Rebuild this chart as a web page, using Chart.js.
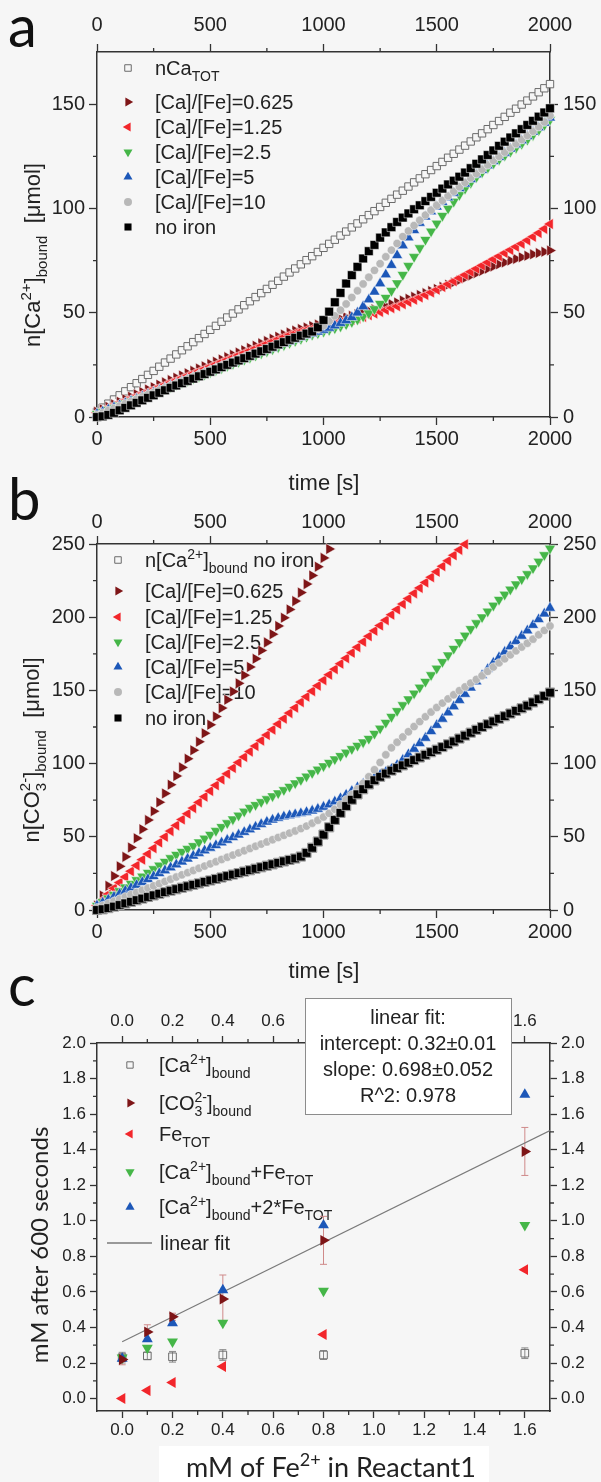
<!DOCTYPE html>
<html>
<head>
<meta charset="utf-8">
<script src="https://cdn.jsdelivr.net/npm/chart.js@4.4.1/dist/chart.umd.min.js"></script>
<style>
  html, body { margin: 0; padding: 0; background: #f6f6f6; }
  #page { position: relative; width: 601px; height: 1482px; overflow: hidden; }
  canvas { position: absolute; left: 0; }
</style>
</head>
<body>
<div id="page">
  <canvas id="chartA" width="601" height="495" style="top:0px"></canvas>
  <canvas id="chartB" width="601" height="520" style="top:470px"></canvas>
  <canvas id="chartC" width="601" height="522" style="top:960px"></canvas>
</div>
<script>
// ---- panel a / b : sampling times [s]
const timeS = [0,25,50,75,100,125,150,175,200,225,250,275,300,325,350,375,400,425,450,475,500,525,550,575,600,625,650,675,700,725,750,775,800,825,850,875,900,925,950,975,1000,1025,1050,1075,1100,1125,1150,1175,1200,1225,1250,1275,1300,1325,1350,1375,1400,1425,1450,1475,1500,1525,1550,1575,1600,1625,1650,1675,1700,1725,1750,1775,1800,1825,1850,1875,1900,1925,1950,1975,2000];

// panel a: n[Ca2+]bound [umol]
const aTot = [2.5,4.5,6.4,8.4,10.4,12.3,14.3,16.2,18.2,20.2,22.1,24.1,26.1,28.0,30.0,32.0,33.9,35.9,37.8,39.8,41.8,43.7,45.7,47.7,49.6,51.6,53.6,55.5,57.5,59.4,61.4,63.4,65.3,67.3,69.3,71.2,73.2,75.2,77.1,79.1,81.1,83.0,85.0,87.0,88.9,90.9,92.8,94.8,96.8,98.7,100.7,102.7,104.6,106.6,108.5,110.5,112.5,114.4,116.4,118.4,120.3,122.3,124.3,126.2,128.2,130.1,132.1,134.1,136.0,138.0,140.0,141.9,143.9,145.9,147.8,149.8,151.7,153.7,155.7,157.6,159.6];
const a0625 = [2.5,3.7,4.9,6.1,7.3,8.5,9.7,10.9,12.0,13.2,14.3,15.5,16.6,17.7,18.8,19.9,21.0,22.1,23.2,24.3,25.4,26.5,27.6,28.7,29.8,30.9,32.0,33.1,34.2,35.3,36.4,37.5,38.5,39.5,40.5,41.4,42.2,42.9,43.6,44.3,45.0,45.7,46.4,47.1,47.8,48.5,49.3,50.1,50.9,51.7,52.5,53.3,54.1,54.9,55.8,56.7,57.6,58.5,59.4,60.4,61.4,62.4,63.4,64.5,65.6,66.7,67.8,68.9,70.0,71.1,72.2,73.2,74.1,75.0,75.8,76.6,77.3,78.0,78.6,79.2,79.8];
const a125 = [2.0,3.2,4.3,5.4,6.5,7.6,8.7,9.8,10.9,12.0,13.1,14.2,15.3,16.4,17.5,18.6,19.7,20.8,21.9,23.0,24.1,25.2,26.3,27.4,28.5,29.6,30.7,31.8,32.9,34.0,35.1,36.2,37.3,38.3,39.3,40.2,41.0,41.7,42.3,42.9,43.5,44.1,44.7,45.3,45.9,46.6,47.3,48.0,48.8,49.6,50.4,51.3,52.2,53.1,54.1,55.1,56.2,57.3,58.5,59.7,61.0,62.3,63.7,65.1,66.6,68.1,69.6,71.1,72.6,74.1,75.6,77.1,78.6,80.1,81.6,83.1,84.7,86.4,88.2,90.2,92.5];
const a25 = [1.5,2.5,3.5,4.5,5.5,6.5,7.5,8.5,9.5,10.5,11.5,12.5,13.5,14.5,15.5,16.5,17.5,18.5,19.5,20.5,21.5,22.5,23.5,24.5,25.5,26.5,27.5,28.5,29.5,30.5,31.5,32.5,33.5,34.5,35.5,36.5,37.5,38.5,39.5,40.2,41.0,41.8,42.6,43.5,44.5,45.6,46.8,48.2,49.8,51.8,54.3,57.2,60.5,64.2,68.2,72.5,76.8,81.0,85.0,89.0,92.8,96.5,100.0,103.3,106.5,109.5,112.3,115.0,117.3,119.5,121.5,123.4,125.3,127.2,129.1,131.0,133.0,135.2,137.5,140.0,142.5];
const a5 = [1.5,2.5,3.5,4.6,5.6,6.6,7.6,8.6,9.7,10.7,11.7,12.7,13.7,14.8,15.8,16.8,17.8,18.8,19.9,20.9,21.9,22.9,23.9,25.0,26.0,27.0,28.0,29.0,30.1,31.1,32.1,33.1,34.1,35.2,36.2,37.2,38.2,39.2,40.0,40.8,41.7,42.7,43.8,45.0,46.3,47.8,50.0,53.0,56.3,60.0,64.0,68.3,72.8,77.5,82.2,86.0,89.5,93.0,96.0,98.5,100.8,103.0,105.2,107.4,109.6,111.8,114.0,116.2,118.4,120.5,122.6,124.6,126.6,128.6,130.6,132.6,134.6,136.7,138.8,141.0,143.5];
const a10 = [1.0,2.0,3.1,4.2,5.3,6.4,7.5,8.6,9.7,10.8,11.8,12.9,14.0,15.1,16.1,17.2,18.3,19.3,20.4,21.4,22.5,23.5,24.6,25.6,26.7,27.7,28.7,29.8,30.8,31.8,32.9,33.9,34.9,35.9,37.0,38.0,39.0,40.0,41.0,42.3,43.8,46.0,48.5,51.2,54.2,57.3,60.5,63.8,67.0,70.3,73.5,76.8,80.0,83.2,86.5,89.2,91.8,94.3,96.8,99.2,101.5,103.8,106.0,108.2,110.4,112.5,114.6,116.7,118.8,120.9,123.0,125.0,127.0,129.0,131.0,133.0,135.0,137.0,139.2,141.5,144.5];
const aNoIron = [0,0.3,1.0,2.0,3.2,4.4,5.6,6.8,8.0,9.2,10.4,11.6,12.8,14.0,15.1,16.2,17.3,18.4,19.5,20.6,21.7,22.8,23.9,25.0,26.1,27.1,28.2,29.3,30.4,31.5,32.6,33.7,34.8,35.9,37.0,38.0,39.0,40.0,41.0,43.0,46.5,50.5,55.0,59.5,64.0,68.0,72.0,76.0,79.5,82.5,86.0,88.5,91.0,93.5,95.6,97.6,99.6,101.5,103.5,105.5,107.5,109.5,111.5,113.3,115.2,117.2,119.3,121.4,123.5,125.6,127.8,130.0,132.0,134.0,136.0,138.0,140.0,142.0,144.0,146.0,148.0];

// panel b: n[CO3 2-]bound [umol] (series end where they leave the 250 frame)
const b0625 = [3.0,9.8,16.5,23.2,29.8,36.3,42.7,49.0,55.2,61.4,67.5,73.6,79.6,85.6,91.5,97.4,103.3,109.1,114.9,120.7,126.5,132.2,137.9,143.6,149.2,154.8,160.4,166.0,171.6,177.2,182.8,188.4,194.0,199.6,205.3,211.0,216.8,222.6,228.5,234.5,240.5,246.6];
const b125 = [3.0,6.9,10.8,14.8,18.7,22.6,26.5,30.4,34.4,38.3,42.2,46.1,50.0,53.9,57.8,61.8,65.7,69.6,73.5,77.4,81.3,85.2,89.1,93.0,97.0,100.7,104.5,108.2,112.0,115.7,119.5,123.2,127.0,130.7,134.5,138.2,142.0,145.7,149.5,153.2,157.0,160.7,164.5,168.2,172.0,175.7,179.5,183.2,187.0,190.7,194.3,198.0,201.7,205.3,209.0,212.7,216.3,220.0,223.7,227.3,231.0,234.8,238.5,242.3,246.0,249.8];
const b25 = [3.0,5.5,8.0,10.5,13.0,15.5,18.0,20.5,23.0,25.5,28.0,30.5,33.0,35.5,37.8,39.8,41.8,43.8,46.3,48.9,51.5,54.1,56.8,59.4,62.0,64.6,67.3,69.8,71.8,73.8,75.8,77.8,79.8,82.0,84.3,86.6,88.9,91.3,93.6,96.0,98.3,100.6,103.0,105.3,107.6,110.0,112.3,114.6,117.0,120.5,124.0,128.0,132.0,136.0,140.0,144.0,148.0,152.0,156.0,160.5,165.0,169.5,174.0,178.5,183.0,187.5,192.0,196.0,200.0,204.0,208.0,212.0,215.5,219.0,222.5,226.0,229.5,233.5,238.0,242.5,247.0];
const b5 = [3.0,5.0,7.0,9.0,11.0,13.0,15.0,17.0,19.0,21.0,23.0,25.0,27.0,29.0,31.0,33.0,35.0,37.0,38.8,40.6,42.4,44.2,46.0,47.8,49.6,51.4,53.2,55.0,56.8,58.6,60.2,61.6,62.8,63.8,64.6,65.3,66.0,66.8,67.8,69.0,70.4,72.0,74.0,76.3,78.7,81.2,83.8,86.2,88.4,90.4,92.3,94.2,96.2,99.0,102.5,106.3,110.0,113.8,117.5,122.0,126.3,130.5,134.8,139.0,143.3,147.5,151.8,156.0,160.3,164.5,168.8,172.6,176.3,180.0,183.6,187.2,190.8,194.6,198.5,202.4,206.3];
const b10 = [1.5,3.0,4.5,6.0,7.5,9.0,10.5,12.0,13.5,15.0,16.5,18.0,19.5,21.0,22.5,24.0,25.5,27.0,28.5,30.0,31.5,33.0,34.5,36.0,37.5,39.0,40.5,42.0,43.5,45.0,46.5,48.0,49.5,51.0,52.5,54.0,55.6,57.3,59.3,61.3,63.5,66.0,68.8,72.0,75.3,78.8,82.5,86.5,91.0,95.8,100.8,106.0,110.8,114.6,118.2,121.8,125.3,128.7,132.0,135.2,138.3,141.3,144.2,147.0,149.8,152.4,155.0,157.5,160.0,163.0,166.0,168.8,171.6,174.3,177.0,179.6,182.2,185.0,188.0,191.0,194.0];
const bNoIron = [0,0.5,1.3,2.3,3.4,4.5,5.6,6.7,7.8,8.9,10.0,11.1,12.2,13.2,14.2,15.2,16.2,17.2,18.2,19.2,20.2,21.2,22.2,23.2,24.2,25.2,26.2,27.2,28.2,29.2,30.2,31.2,32.2,33.2,34.2,35.2,36.5,39.0,42.5,46.8,51.5,56.5,61.5,66.3,71.0,75.3,79.0,82.5,85.8,88.6,91.0,93.2,95.2,97.0,98.8,100.6,102.4,104.2,106.0,107.8,109.5,111.3,113.2,115.1,117.1,119.1,121.1,123.1,125.0,126.9,128.8,130.6,132.4,134.2,136.0,137.8,139.6,141.8,144.0,146.2,148.5];
// n[Ca2+]bound without iron lies under the black series in panel b
const bCaBound = bNoIron;

// panel c: mM after 600 s vs mM Fe2+
const cFe = [0, 0.1, 0.2, 0.4, 0.8, 1.6];
const cCaBound = [0.23, 0.24, 0.235, 0.245, 0.245, 0.255];
const cCaErr = [0.03, 0.02, 0.03, 0.03, 0.025, 0.03];
const cCO3 = [0.22, 0.375, 0.46, 0.56, 0.89, 1.39];
const cCO3Err = [0.03, 0.04, 0.02, 0.135, 0.135, 0.135];
const cFeTot = [0, 0.045, 0.09, 0.18, 0.36, 0.725];
const cCaFe = [0.23, 0.285, 0.32, 0.425, 0.605, 0.975];
const cCa2Fe = [0.225, 0.335, 0.425, 0.61, 0.975, 1.71];
const fitX = [0, 1.7];
const fitY = [0.32, 1.507];

// tick values
const tTicks = [0, 500, 1000, 1500, 2000];
const tMinor = [250, 750, 1250, 1750];
const aTicks = [0, 50, 100, 150];
const aMinor = [25, 75, 125];
const bTicks = [0, 50, 100, 150, 200, 250];
const bMinor = [25, 75, 125, 175, 225];
const cXTicks = [0, 0.2, 0.4, 0.6, 0.8, 1.0, 1.2, 1.4, 1.6];
const cXMinor = [0.1, 0.3, 0.5, 0.7, 0.9, 1.1, 1.3, 1.5];
const cYTicks = [0, 0.2, 0.4, 0.6, 0.8, 1.0, 1.2, 1.4, 1.6, 1.8, 2.0];
const cYMinor = [0.1, 0.3, 0.5, 0.7, 0.9, 1.1, 1.3, 1.5, 1.7, 1.9];

const FAM = '"Liberation Sans", Arial, Helvetica, sans-serif';
const LATO = 'Lato, "Open Sans", sans-serif';
const INK = '#222';
const AXIS = '#333';
const BG = '#f6f6f6';

const STY = {
  tot:   { shape: 'rect', rot: 0, fill: BG, line: '#6b6b6b', lw: 1 },
  r0625: { shape: 'triangle', rot: 90, fill: '#7e1517' },
  r125:  { shape: 'triangle', rot: -90, fill: '#f2262b' },
  r25:   { shape: 'triangle', rot: 180, fill: '#45b648' },
  r5:    { shape: 'triangle', rot: 0, fill: '#1c57b8' },
  r10:   { shape: 'circle', rot: 0, fill: '#b8b8b8' },
  none:  { shape: 'rect', rot: 0, fill: '#000000' }
};

Chart.defaults.font.family = FAM;

// ---- small drawing helpers
function parseRich(s) {
  const out = [];
  const re = /(\^\{[^}]*\}_\{[^}]*\})|(\^\{[^}]*\})|(_\{[^}]*\})|([^^_]+)/g;
  let m;
  while ((m = re.exec(s))) {
    if (m[1]) { const mm = m[1].match(/\^\{([^}]*)\}_\{([^}]*)\}/); out.push({ k: 'b', p: mm[1], s: mm[2] }); }
    else if (m[2]) out.push({ k: 'p', t: m[2].slice(2, -1) });
    else if (m[3]) out.push({ k: 's', t: m[3].slice(2, -1) });
    else out.push({ k: 'n', t: m[4] });
  }
  return out;
}

function drawRich(ctx, s, x, y, fs, fam, align) {
  const parts = parseRich(s);
  const F = fs + 'px ' + fam, S = Math.round(fs * 0.68) + 'px ' + fam;
  let w = 0;
  parts.forEach(p => {
    if (p.k === 'n') { ctx.font = F; p.w = ctx.measureText(p.t).width; }
    else if (p.k === 'b') { ctx.font = S; p.w = Math.max(ctx.measureText(p.p).width, ctx.measureText(p.s).width); }
    else { ctx.font = S; p.w = ctx.measureText(p.t).width; }
    w += p.w;
  });
  let cx = align === 'center' ? x - w / 2 : x;
  ctx.textAlign = 'left';
  ctx.textBaseline = 'alphabetic';
  parts.forEach(p => {
    if (p.k === 'n') { ctx.font = F; ctx.fillText(p.t, cx, y); }
    else if (p.k === 'p') { ctx.font = S; ctx.fillText(p.t, cx, y - fs * 0.42); }
    else if (p.k === 's') { ctx.font = S; ctx.fillText(p.t, cx, y + fs * 0.3); }
    else { ctx.font = S; ctx.fillText(p.p, cx, y - fs * 0.42); ctx.fillText(p.s, cx, y + fs * 0.3); }
    cx += p.w;
  });
}

function drawRotated(ctx, s, x, yc, fs, fam) {
  ctx.save();
  ctx.translate(x, yc);
  ctx.rotate(-Math.PI / 2);
  ctx.fillStyle = INK;
  drawRich(ctx, s, 0, 0, fs, fam, 'center');
  ctx.restore();
}

function marker(ctx, st, r, x, y) {
  ctx.save();
  ctx.beginPath();
  if (st.shape === 'circle') ctx.arc(x, y, r, 0, Math.PI * 2);
  else if (st.shape === 'rect') { const h = r * Math.SQRT1_2; ctx.rect(x - h, y - h, 2 * h, 2 * h); }
  else {
    let a = st.rot * Math.PI / 180;
    for (let k = 0; k < 3; k++) {
      const px = x + Math.sin(a) * r, py = y - Math.cos(a) * r;
      if (k) ctx.lineTo(px, py); else ctx.moveTo(px, py);
      a += 2 * Math.PI / 3;
    }
    ctx.closePath();
  }
  ctx.fillStyle = st.fill;
  ctx.fill();
  if (st.lw) { ctx.lineWidth = st.lw; ctx.strokeStyle = st.line; ctx.stroke(); }
  ctx.restore();
}

function drawLegend(ctx, items, mx, tx, fs) {
  items.forEach(it => {
    if (it.line) {
      ctx.save(); ctx.strokeStyle = it.line; ctx.lineWidth = 1.3;
      ctx.beginPath(); ctx.moveTo(it.x0, it.y); ctx.lineTo(it.x1, it.y); ctx.stroke(); ctx.restore();
    } else {
      marker(ctx, it.st, it.r, mx, it.y);
    }
    ctx.fillStyle = INK;
    drawRich(ctx, it.text, it.tx || tx, it.y + fs * 0.36, fs, FAM, 'left');
  });
}

function drawMinor(chart, xm, ym, len) {
  const { ctx, chartArea: a, scales } = chart;
  ctx.save();
  ctx.strokeStyle = AXIS;
  ctx.lineWidth = 1.3;
  ctx.beginPath();
  xm.forEach(v => {
    const p = scales.x.getPixelForValue(v);
    ctx.moveTo(p, a.bottom); ctx.lineTo(p, a.bottom + len);
    ctx.moveTo(p, a.top); ctx.lineTo(p, a.top - len);
  });
  ym.forEach(v => {
    const p = scales.y.getPixelForValue(v);
    ctx.moveTo(a.left, p); ctx.lineTo(a.left - len, p);
    ctx.moveTo(a.right, p); ctx.lineTo(a.right + len, p);
  });
  ctx.stroke();
  ctx.restore();
}

function drawErr(chart, xs, ys, es, color, cap) {
  const { ctx, scales } = chart;
  ctx.save();
  ctx.strokeStyle = color;
  ctx.lineWidth = 1;
  ctx.beginPath();
  xs.forEach((xv, i) => {
    const px = scales.x.getPixelForValue(xv);
    const p1 = scales.y.getPixelForValue(ys[i] + es[i]);
    const p2 = scales.y.getPixelForValue(ys[i] - es[i]);
    ctx.moveTo(px, p1); ctx.lineTo(px, p2);
    ctx.moveTo(px - cap, p1); ctx.lineTo(px + cap, p1);
    ctx.moveTo(px - cap, p2); ctx.lineTo(px + cap, p2);
  });
  ctx.stroke();
  ctx.restore();
}

function letter(ctx, ch, x, y) {
  ctx.save();
  ctx.fillStyle = '#111';
  ctx.font = '58px ' + LATO;
  ctx.textAlign = 'left';
  ctx.textBaseline = 'alphabetic';
  ctx.fillText(ch, x, y);
  ctx.restore();
}

// ---- chart builders
function scale(axis, pos, lo, hi, ticks, fmt, fs, size, pad, tl) {
  return {
    type: 'linear', axis: axis, position: pos, min: lo, max: hi,
    afterBuildTicks: s => { s.ticks = ticks.map(v => ({ value: v })); },
    afterFit: s => { if (axis === 'x') s.height = size; else s.width = size; },
    ticks: {
      autoSkip: false, maxRotation: 0, minRotation: 0, padding: pad, color: INK,
      font: { family: FAM, size: fs }, callback: v => fmt(v)
    },
    grid: { drawOnChartArea: false, drawTicks: true, tickLength: tl, tickColor: AXIS, tickWidth: 1.3 },
    border: { display: true, color: AXIS, width: 1.5 }
  };
}

function points(xs, ys, st, r, edge) {
  return {
    type: 'scatter',
    data: ys.map((v, i) => ({ x: xs[i], y: v })),
    pointStyle: st.shape, pointRotation: st.rot, pointRadius: r,
    pointBackgroundColor: st.fill,
    pointBorderColor: st.line || edge || st.fill,
    pointBorderWidth: st.lw ? st.lw : (edge ? 0.5 : 0),
    showLine: false, clip: false
  };
}

const intFmt = v => String(v);
const decFmt = v => v.toFixed(1);

// ---- panel a
new Chart(document.getElementById('chartA'), {
  type: 'scatter',
  data: {
    datasets: [
      points(timeS, aNoIron, STY.none, 6.2, '#fff'),
      points(timeS, a10, STY.r10, 4.2, '#fff'),
      points(timeS, a5, STY.r5, 6.4, '#fff'),
      points(timeS, a25, STY.r25, 6.4, '#fff'),
      points(timeS, a125, STY.r125, 6.4, '#fff'),
      points(timeS, a0625, STY.r0625, 6.4, '#fff'),
      points(timeS, aTot, STY.tot, 5.2)
    ]
  },
  options: {
    responsive: false, animation: false, events: [],
    layout: { padding: 0 },
    plugins: { legend: { display: false }, tooltip: { enabled: false } },
    scales: {
      x: scale('x', 'bottom', 0, 2000, tTicks, intFmt, 20, 78, 2, 8),
      x2: scale('x', 'top', 0, 2000, tTicks, intFmt, 20, 52, 7, 8),
      y: scale('y', 'left', 0, 175, aTicks, intFmt, 20, 97, 4, 8),
      y2: scale('y', 'right', 0, 175, aTicks, intFmt, 20, 51, 5, 8)
    }
  },
  plugins: [{
    id: 'decorA',
    beforeDatasetsDraw(chart) {
      drawLegend(chart.ctx, [
        { st: STY.tot, r: 4.6, y: 68, text: 'nCa_{TOT}' },
        { st: STY.r0625, r: 5.2, y: 102, text: '[Ca]/[Fe]=0.625' },
        { st: STY.r125, r: 5.2, y: 127, text: '[Ca]/[Fe]=1.25' },
        { st: STY.r25, r: 5.2, y: 152, text: '[Ca]/[Fe]=2.5' },
        { st: STY.r5, r: 5.2, y: 177, text: '[Ca]/[Fe]=5' },
        { st: STY.r10, r: 4, y: 202, text: '[Ca]/[Fe]=10' },
        { st: STY.none, r: 5, y: 227, text: 'no iron' }
      ], 128, 155, 20);
    },
    afterDraw(chart) {
      const ctx = chart.ctx;
      drawMinor(chart, tMinor, aMinor, 4);
      ctx.fillStyle = INK;
      drawRich(ctx, 'time [s]', 324, 490, 22, FAM, 'center');
      drawRotated(ctx, 'n[Ca^{2+}]_{bound}  [\u03bcmol]', 40, 255, 22, FAM);
      letter(ctx, 'a', 8, 47);
    }
  }]
});

// ---- panel b
new Chart(document.getElementById('chartB'), {
  type: 'scatter',
  data: {
    datasets: [
      points(timeS, bNoIron, STY.none, 6.2, '#fff'),
      points(timeS, b10, STY.r10, 4.2, '#fff'),
      points(timeS, b5, STY.r5, 6.4, '#fff'),
      points(timeS, b25, STY.r25, 6.4, '#fff'),
      points(timeS, b125, STY.r125, 6.4, '#fff'),
      points(timeS, b0625, STY.r0625, 6.4, '#fff'),
      points(timeS, bCaBound, STY.tot, 6.4)
    ]
  },
  options: {
    responsive: false, animation: false, events: [],
    layout: { padding: 0 },
    plugins: { legend: { display: false }, tooltip: { enabled: false } },
    scales: {
      x: scale('x', 'bottom', 0, 2000, tTicks, intFmt, 20, 80, 2, 8),
      x2: scale('x', 'top', 0, 2000, tTicks, intFmt, 20, 74, 2, 8),
      y: scale('y', 'left', 0, 250, bTicks, intFmt, 20, 97, 4, 8),
      y2: scale('y', 'right', 0, 250, bTicks, intFmt, 20, 51, 5, 8)
    }
  },
  plugins: [{
    id: 'decorB',
    beforeDatasetsDraw(chart) {
      drawLegend(chart.ctx, [
        { st: STY.tot, r: 4.6, y: 90, text: 'n[Ca^{2+}]_{bound} no iron' },
        { st: STY.r0625, r: 5.2, y: 121, text: '[Ca]/[Fe]=0.625' },
        { st: STY.r125, r: 5.2, y: 147, text: '[Ca]/[Fe]=1.25' },
        { st: STY.r25, r: 5.2, y: 172, text: '[Ca]/[Fe]=2.5' },
        { st: STY.r5, r: 5.2, y: 197, text: '[Ca]/[Fe]=5' },
        { st: STY.r10, r: 4, y: 222, text: '[Ca]/[Fe]=10' },
        { st: STY.none, r: 5, y: 248, text: 'no iron' }
      ], 118, 145, 20);
    },
    afterDraw(chart) {
      const ctx = chart.ctx;
      drawMinor(chart, tMinor, bMinor, 4);
      ctx.fillStyle = INK;
      drawRich(ctx, 'time [s]', 324, 508, 22, FAM, 'center');
      drawRotated(ctx, 'n[CO^{2-}_{3}]_{bound}  [\u03bcmol]', 39, 280, 22, FAM);
      letter(ctx, 'b', 8, 50);
    }
  }]
});

// ---- panel c
const cSty = {
  ca: { shape: 'rect', rot: 0, fill: 'rgba(0,0,0,0)', line: '#6b6b6b', lw: 1 },
  co3: STY.r0625, fe: STY.r125, caFe: STY.r25, ca2Fe: STY.r5
};
new Chart(document.getElementById('chartC'), {
  type: 'scatter',
  data: {
    datasets: [
      points(cFe, cCO3, cSty.co3, 6.3),
      points(cFe, cCa2Fe, cSty.ca2Fe, 6.3),
      points(cFe, cCaFe, cSty.caFe, 6.3),
      points(cFe, cFeTot, cSty.fe, 6.3),
      points(cFe, cCaBound, cSty.ca, 5.4),
      {
        type: 'line',
        data: fitX.map((v, i) => ({ x: v, y: fitY[i] })),
        borderColor: '#7a7a7a', borderWidth: 1.2, pointRadius: 0, fill: false
      }
    ]
  },
  options: {
    responsive: false, animation: false, events: [],
    layout: { padding: 0 },
    plugins: { legend: { display: false }, tooltip: { enabled: false } },
    scales: {
      x: scale('x', 'bottom', -0.1, 1.7, cXTicks, decFmt, 17, 71, 2, 7),
      x2: scale('x', 'top', -0.1, 1.7, cXTicks, decFmt, 17, 83, 4, 7),
      y: scale('y', 'left', -0.07, 2.0, cYTicks, decFmt, 17, 97, 4, 7),
      y2: scale('y', 'right', -0.07, 2.0, cYTicks, decFmt, 17, 51, 4, 7)
    }
  },
  plugins: [{
    id: 'decorC',
    beforeDatasetsDraw(chart) {
      drawLegend(chart.ctx, [
        { st: cSty.ca, r: 4.5, y: 105, text: '[Ca^{2+}]_{bound}' },
        { st: cSty.co3, r: 5.3, y: 143, text: '[CO^{2-}_{3}]_{bound}' },
        { st: cSty.fe, r: 5.3, y: 174, text: 'Fe_{TOT}' },
        { st: cSty.caFe, r: 5.3, y: 212, text: '[Ca^{2+}]_{bound}+Fe_{TOT}' },
        { st: cSty.ca2Fe, r: 5.3, y: 247, text: '[Ca^{2+}]_{bound}+2*Fe_{TOT}' },
        { line: '#7a7a7a', x0: 107, x1: 152, y: 283, tx: 160, text: 'linear fit' }
      ], 130, 159, 20);
      drawErr(chart, cFe, cCaBound, cCaErr, '#8a8a8a', 3.5);
      drawErr(chart, cFe, cCO3, cCO3Err, '#cf8a8a', 3.5);
    },
    afterDraw(chart) {
      const ctx = chart.ctx;
      drawMinor(chart, cXMinor, cYMinor, 4);
      // fit result box
      ctx.save();
      ctx.fillStyle = '#ffffff';
      ctx.strokeStyle = '#8c8c8c';
      ctx.lineWidth = 1;
      ctx.fillRect(305, 38, 206, 116);
      ctx.strokeRect(305.5, 38.5, 206, 116);
      ctx.fillStyle = INK;
      ctx.font = '20px ' + FAM;
      ctx.textAlign = 'center';
      ctx.textBaseline = 'alphabetic';
      ['linear fit:', 'intercept: 0.32\u00b10.01', 'slope: 0.698\u00b10.052', 'R^2: 0.978']
        .forEach((s, i) => ctx.fillText(s, 408, 64 + i * 26));
      ctx.restore();
      // axis titles
      ctx.save();
      ctx.fillStyle = '#ffffff';
      ctx.fillRect(159, 486, 330, 36);
      ctx.restore();
      ctx.fillStyle = INK;
      drawRich(ctx, 'mM of Fe^{2+} in Reactant1', 331, 517, 27, LATO, 'center');
      drawRotated(ctx, 'mM after 600 seconds', 48, 285, 24, LATO);
      letter(ctx, 'c', 8, 46);
    }
  }]
});
</script>
</body>
</html>
